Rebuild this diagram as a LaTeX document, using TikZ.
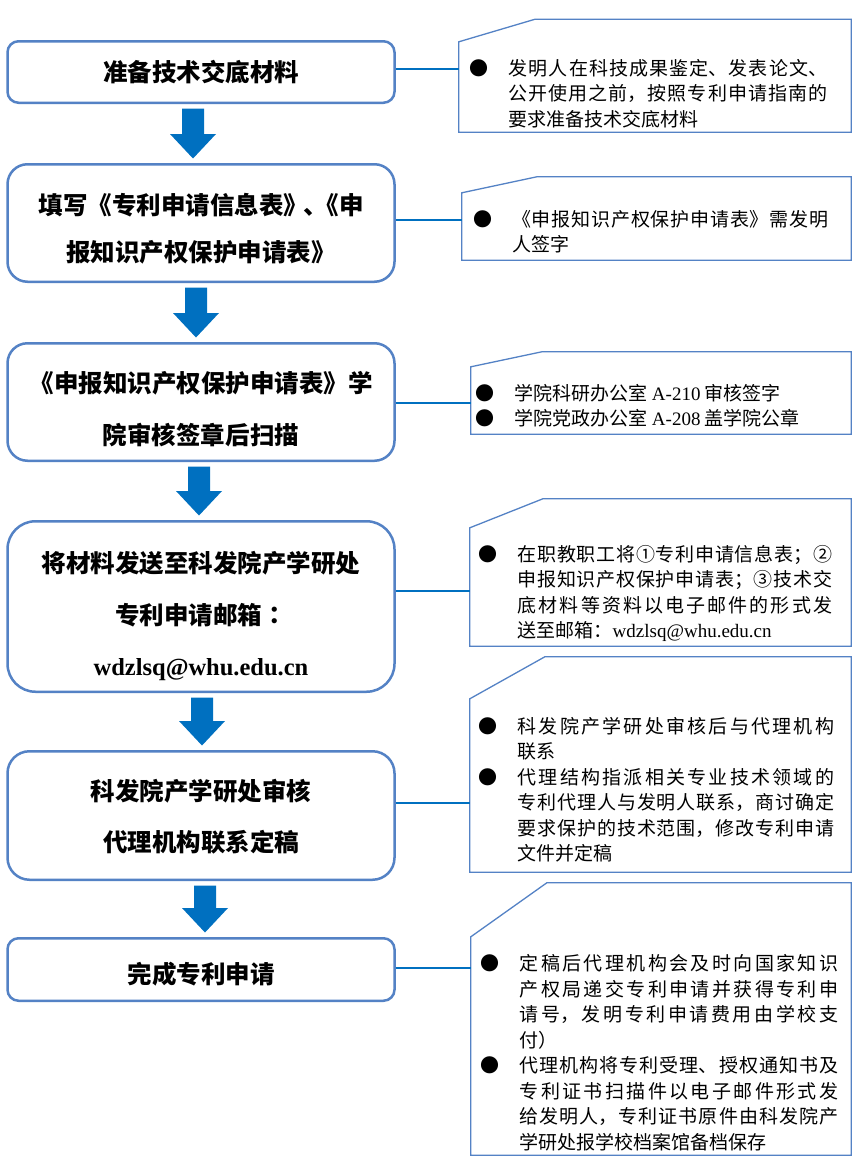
\documentclass[tikz,border=0pt]{standalone}
\usepackage{fontspec}
\setmainfont{Noto Sans CJK SC}
\newfontfamily\lser{Liberation Serif}
\newfontfamily\cjktc{Noto Sans CJK TC}
\usetikzlibrary{calc}
\XeTeXlinebreaklocale "zh"
\XeTeXlinebreakskip=0pt plus 5pt
\definecolor{boxblue}{RGB}{84,130,197}
\definecolor{noteblue}{RGB}{84,130,197}
\definecolor{connblue}{RGB}{0,112,192}
\definecolor{arrowblue}{RGB}{0,112,192}
\newcommand{\bitem}[1]{\par\noindent\hangindent=39pt\hangafter=1\makebox[39pt][l]{●}#1\par}
\newcommand{\barrow}[3]{%
  \fill[arrowblue] ($(#1.south)+(#3-11,4.5)$) -- ++(22,0) -- ($(#2.north)+(#3+11,-29)$) -- ++(12,0)
    -- ($(#2.north)+(#3,-4.5)$) -- ++(-23,-24.5) -- ++(12,0) -- cycle;}
\newcommand{\notepoly}[3]{%
  \draw[notebd] ([yshift=-#2pt]#1.north west) -- ([xshift=#3pt]#1.north west) -- (#1.north east)
    -- (#1.south east) -- (#1.south west) -- cycle;}
\tikzset{
  stepbox/.style={draw=boxblue, line width=2.5pt, fill=white, inner sep=0pt, minimum width=387pt},
  lbl/.style={align=center, inner sep=0pt},
  notefr/.style={inner sep=0pt, draw=none},
  notebd/.style={draw=noteblue, line width=1.3pt, line join=miter},
  ntxt/.style={font=\fontsize{19}{25.5}\selectfont, align=justify, inner sep=0pt, anchor=west},
  conn/.style={draw=connblue, line width=2pt}
}
\begin{document}
\begin{tikzpicture}[x=1pt, y=-1pt]
\fill[white] (0,0) rectangle (857,1167);
\useasboundingbox (0,0) rectangle (857,1167);

% left step boxes
\node[stepbox, minimum height=61.5pt, rounded corners=11pt] (b1) at (201,72) {};
\node[stepbox, minimum height=117.5pt, rounded corners=20pt] (b2) at (201,223) {};
\node[stepbox, minimum height=117.5pt, rounded corners=20pt] (b3) at (201,402) {};
\node[stepbox, minimum height=170.5pt, rounded corners=28pt] (b4) at (201,606.5) {};
\node[stepbox, minimum height=128.5pt, rounded corners=22pt] (b5) at (201,815.5) {};
\node[stepbox, minimum height=62.5pt, rounded corners=11pt] (b6) at (201,969.5) {};

\node[lbl, font=\bfseries\fontsize{24.5}{51}\selectfont] (l1) at (201,72) {准备技术交底材料};
\node[lbl, font=\bfseries\fontsize{24.5}{47}\selectfont] (l2) at (201,229) {填写《专利申请信息表》\kern-5pt、\kern-13pt《申\\报知识产权保护申请表》};
\node[lbl, font=\bfseries\fontsize{24.5}{52}\selectfont] (l3) at (201,409) {《申报知识产权保护申请表》学\\院审核签章后扫描};
\node[lbl, font=\bfseries\fontsize{24.5}{51.5}\selectfont] (l4) at (201,616) {将材料发送至科发院产学研处\\专利申请邮箱{\cjktc ：}\\{\lser wdzlsq@whu.edu.cn}};
\node[lbl, font=\bfseries\fontsize{24.5}{51}\selectfont] (l5) at (201,817) {科发院产学研处审核\\代理机构联系定稿};
\node[lbl, font=\bfseries\fontsize{24.5}{51}\selectfont] (l6) at (201,974) {完成专利申请};

% block arrows
\barrow{b1}{b2}{-8}
\barrow{b2}{b3}{-5}
\barrow{b3}{b4}{-2}
\barrow{b4}{b5}{1}
\barrow{b5}{b6}{4}

% note frames
\node[notefr, minimum width=392pt, minimum height=112.5pt] (n1) at (655,75.75) {};
\node[notefr, minimum width=389pt, minimum height=83pt] (n2) at (656.5,218.5) {};
\node[notefr, minimum width=380pt, minimum height=82pt] (n3) at (661,393) {};
\node[notefr, minimum width=381pt, minimum height=147pt] (n4) at (660.5,572.5) {};
\node[notefr, minimum width=381pt, minimum height=215pt] (n5) at (660.5,764.5) {};
\node[notefr, minimum width=380pt, minimum height=272pt] (n6) at (661,1019) {};
\notepoly{n1}{22.5}{76}
\notepoly{n2}{16}{75}
\notepoly{n3}{15}{71}
\notepoly{n4}{29}{73}
\notepoly{n5}{42}{75}
\notepoly{n6}{54}{76}

% connectors
\draw[conn] (b1.east |- 0,69) -- (n1.west |- 0,69);
\draw[conn] (b2.east |- 0,220) -- (n2.west |- 0,220);
\draw[conn] (b3.east |- 0,403) -- (n3.west |- 0,403);
\draw[conn] (b4.east |- 0,591) -- (n4.west |- 0,591);
\draw[conn] (b5.east |- 0,803) -- (n5.west |- 0,803);
\draw[conn] (b6.east |- 0,968) -- (n6.west |- 0,968);

% note texts
\node[ntxt, text width=357.5pt] (t1) at (469.5,89) {\bitem{发明人在科技成果鉴定、发表论文、\linebreak 公开使用之前，按照专利申请指南的\linebreak 要求准备技术交底材料}};
\node[ntxt, text width=354.5pt] (t2) at (473.5,227) {\bitem{《申报知识产权保护申请表》需发明\linebreak 人签字}};
\node[ntxt, text width=360pt] (t3) at (475.5,401) {\bitem{学院科研办公室 {\lser A-210} 审核签字}\bitem{学院党政办公室 {\lser A-208} 盖学院公章}};
\node[ntxt, text width=353.5pt] (t4) at (478.5,589) {\bitem{在职教职工将①专利申请信息表；②\linebreak 申报知识产权保护申请表；③技术交\linebreak 底材料等资料以电子邮件的形式发\linebreak 送至邮箱：{\lser wdzlsq@whu.edu.cn}}};
\node[ntxt, text width=355.5pt] (t5) at (478.5,785) {\bitem{科发院产学研处审核后与代理机构\linebreak 联系}\bitem{代理结构指派相关专业技术领域的\linebreak 专利代理人与发明人联系，商讨确定\linebreak 要求保护的技术范围，修改专利申请\linebreak 文件并定稿}};
\node[ntxt, text width=357.5pt] (t6) at (480.5,1048) {\bitem{定稿后代理机构会及时向国家知识\linebreak 产权局递交专利申请并获得专利申\linebreak 请号，发明专利申请费用由学校支\linebreak 付）}\bitem{代理机构将专利受理、授权通知书及\linebreak 专利证书扫描件以电子邮件形式发\linebreak 给发明人，专利证书原件由科发院产\linebreak 学研处报学校档案馆备档保存}};
\end{tikzpicture}
\end{document}
